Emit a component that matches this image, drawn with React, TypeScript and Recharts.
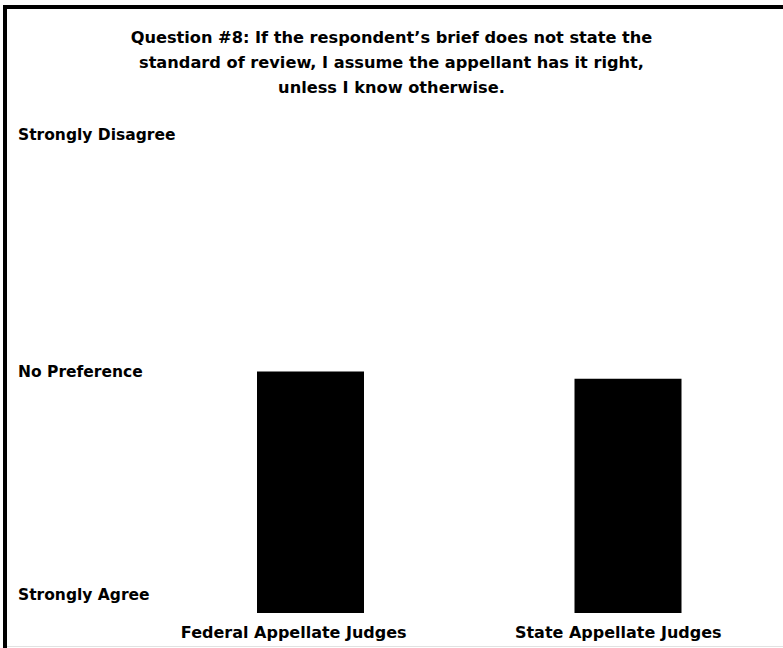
import React from 'react';
import { BarChart, Bar, XAxis, YAxis, Cell } from 'recharts';

// survey answers on a 1 (Strongly Agree) .. 5 (Strongly Disagree) scale
const groups = ['Federal Appellate Judges', 'State Appellate Judges'];
const scores = [3.0, 2.94];

const scaleTicks = [1, 3, 5];
const scaleLabels = ['Strongly Agree', 'No Preference', 'Strongly Disagree'];

const titleLines = [
  'Question #8: If the respondent\u2019s brief does not state the',
  'standard of review, I assume the appellant has it right,',
  'unless I know otherwise.',
];

const data = groups.map((g, i) => ({ group: g, score: scores[i] }));

const FONT = '"DejaVu Sans", Verdana, sans-serif';

// label nudges so the text sits where the original put it
const yLabelShift: Record<number, number> = { 1: -18, 3: 0, 5: 5 };
const xLabelShift = [-17, -10];

const YTick = (props: any) => {
  const { y, payload } = props;
  const idx = scaleTicks.indexOf(payload.value);
  return (
    <text
      x={18}
      y={y + (yLabelShift[payload.value] ?? 0)}
      dominantBaseline="central"
      textAnchor="start"
      fontFamily={FONT}
      fontWeight="bold"
      fontSize={15.5}
      fill="#000"
    >
      {scaleLabels[idx]}
    </text>
  );
};

const XTick = (props: any) => {
  const { x, y, payload, index } = props;
  return (
    <text
      x={x + (xLabelShift[index] ?? 0)}
      y={y + 19}
      dominantBaseline="central"
      textAnchor="middle"
      fontFamily={FONT}
      fontWeight="bold"
      fontSize={16}
      fill="#000"
    >
      {payload.value}
    </text>
  );
};

const App: React.FC = () => {
  return (
    <div style={{ position: 'absolute', left: 0, top: 0, width: 783, height: 648, background: '#fff', overflow: 'hidden' }}>
      {/* frame: heavy top and left edge, faint bottom rule */}
      <div style={{ position: 'absolute', left: 3, top: 5, right: 0, height: 4, background: '#000' }} />
      <div style={{ position: 'absolute', left: 3, top: 5, width: 4, bottom: 0, background: '#000' }} />
      <div style={{ position: 'absolute', left: 7, bottom: 1, right: 0, height: 1, background: '#e2e2e2' }} />

      <div
        style={{
          position: 'absolute',
          left: 0,
          top: 25,
          width: 783,
          textAlign: 'center',
          fontFamily: FONT,
          fontWeight: 'bold',
          fontSize: 16.2,
          lineHeight: '25px',
          color: '#000',
        }}
      >
        {titleLines.map((t) => (
          <div key={t}>{t}</div>
        ))}
      </div>

      <div style={{ position: 'absolute', left: 0, top: 0 }}>
        <BarChart width={783} height={648} data={data} margin={{ top: 130, right: -4, bottom: 0, left: 0 }}>
          <XAxis
            dataKey="group"
            height={35}
            axisLine={false}
            tickLine={false}
            tickSize={0}
            tickMargin={0}
            tick={<XTick />}
            interval={0}
          />
          <YAxis
            type="number"
            domain={[1, 5]}
            ticks={scaleTicks}
            width={152}
            axisLine={false}
            tickLine={false}
            tickSize={0}
            tickMargin={0}
            tick={<YTick />}
            interval={0}
          />
          <Bar dataKey="score" barSize={107} isAnimationActive={false}>
            {data.map((d) => (
              <Cell key={d.group} fill="#000" />
            ))}
          </Bar>
        </BarChart>
      </div>
    </div>
  );
};

export default App;
